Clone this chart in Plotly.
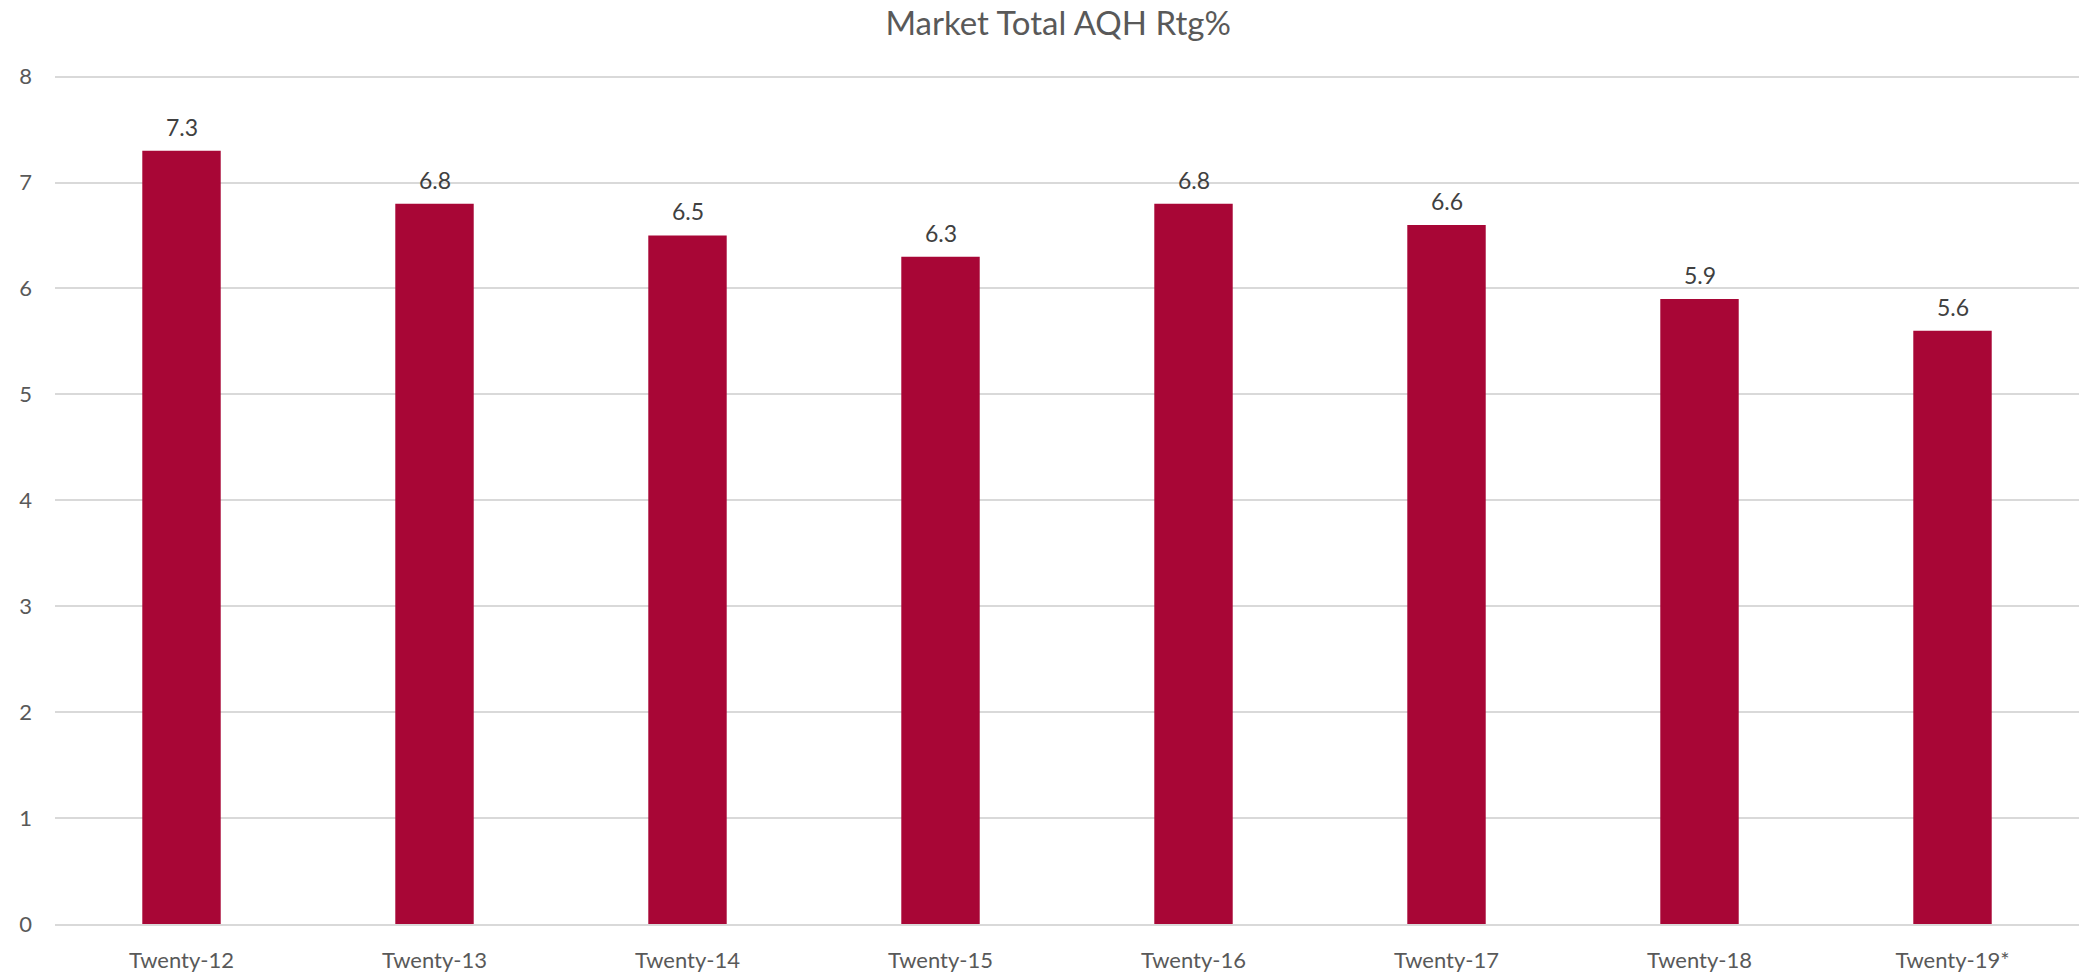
import plotly.graph_objects as go

# Annual market AQH rating
years = ["Twenty-12", "Twenty-13", "Twenty-14", "Twenty-15",
         "Twenty-16", "Twenty-17", "Twenty-18", "Twenty-19*"]
aqh_rtg = [7.3, 6.8, 6.5, 6.3, 6.8, 6.6, 5.9, 5.6]
y_ticks = [0, 1, 2, 3, 4, 5, 6, 7, 8]

BAR = "#A80636"
FONT = "Lato"

fig = go.Figure(
    go.Bar(
        x=years,
        y=aqh_rtg,
        marker=dict(color=BAR, line=dict(width=0)),
        width=0.31,
        hoverinfo="x+y",
    )
)

# value labels floating above each bar
for yr, v in zip(years, aqh_rtg):
    fig.add_annotation(
        x=yr, y=v, text=f"{v:.1f}",
        showarrow=False, yanchor="middle", yshift=24,
        font=dict(family=FONT, size=23, color="#404040"),
    )

fig.update_layout(
    width=2079,
    height=973,
    margin=dict(l=55, r=0, t=66, b=45),
    paper_bgcolor="white",
    plot_bgcolor="white",
    showlegend=False,
    title=dict(
        text="Market Total AQH Rtg%",
        x=0.509,
        xanchor="center",
        y=0.976,
        yanchor="middle",
        font=dict(family=FONT, size=33, color="#595959"),
    ),
)

fig.update_xaxes(
    showgrid=False,
    showline=True,
    linecolor="#D9D9D9",
    linewidth=2,
    ticks="",
    tickfont=dict(family=FONT, size=22, color="#595959"),
    ticklabelstandoff=16,
)

fig.update_yaxes(
    range=[0, 8.1],
    tickvals=y_ticks,
    showgrid=True,
    gridcolor="#D9D9D9",
    gridwidth=1.5,
    zeroline=False,
    showline=False,
    ticks="",
    tickfont=dict(family=FONT, size=22, color="#595959"),
    ticklabelstandoff=22,
)

fig.write_html("out.html")
